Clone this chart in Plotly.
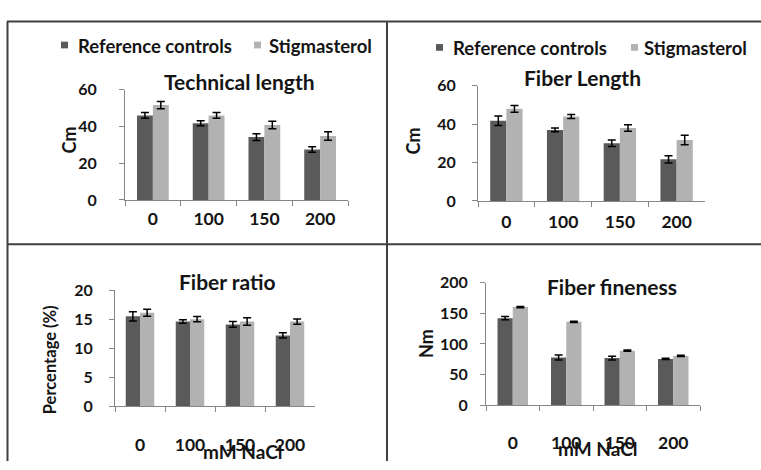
import plotly.graph_objects as go

W, H = 761, 470

categories = ["0", "100", "150", "200"]
series_names = ["Reference controls", "Stigmasterol"]

tech_ref = [46.0, 41.7, 34.2, 27.4]
tech_ref_err = [1.6, 1.4, 1.8, 1.5]
tech_stig = [51.6, 46.0, 40.8, 34.8]
tech_stig_err = [2.0, 1.6, 2.0, 2.3]

fib_ref = [41.8, 37.0, 30.1, 21.7]
fib_ref_err = [2.5, 1.0, 1.7, 1.9]
fib_stig = [48.0, 44.0, 38.0, 31.8]
fib_stig_err = [1.8, 1.0, 1.7, 2.5]

ratio_ref = [15.5, 14.6, 14.1, 12.2]
ratio_ref_err = [0.8, 0.3, 0.5, 0.45]
ratio_stig = [16.1, 15.0, 14.6, 14.6]
ratio_stig_err = [0.6, 0.45, 0.65, 0.45]

fine_ref = [142.0, 78.0, 77.0, 75.5]
fine_ref_err = [2.5, 4.0, 3.0, 1.0]
fine_stig = [160.0, 136.0, 89.0, 80.5]
fine_stig_err = [1.0, 1.0, 1.0, 1.0]

DARK = "#5a5a5a"
LIGHT = "#b2b2b2"
TXT = "#141414"
FONT = "Lato"


def px(x):
    return x / W


def py(y):
    return 1 - y / H


panels = [
    ("x", "y", tech_ref, tech_ref_err, tech_stig, tech_stig_err),
    ("x2", "y2", fib_ref, fib_ref_err, fib_stig, fib_stig_err),
    ("x3", "y3", ratio_ref, ratio_ref_err, ratio_stig, ratio_stig_err),
    ("x4", "y4", fine_ref, fine_ref_err, fine_stig, fine_stig_err),
]

fig = go.Figure()
for xa, ya, r, re, s, se in panels:
    for name, vals, errs, col in [(series_names[0], r, re, DARK), (series_names[1], s, se, LIGHT)]:
        fig.add_trace(go.Bar(
            x=categories, y=vals, name=name, xaxis=xa, yaxis=ya,
            marker=dict(color=col, line=dict(width=0)),
            error_y=dict(type="data", array=errs, visible=True, color="#000000",
                         thickness=1.5, width=4),
            showlegend=False,
        ))

# plot-area pixel boxes: (x0, x1, ytop, ybottom)
boxes = {
    "1": (125, 348, 83, 198),
    "2": (478, 705, 79, 199),
    "3": (115, 315, 292, 413),
    "4": (486, 700, 284, 412),
}
yranges = {"1": [0, 60], "2": [0, 60], "3": [0, 20], "4": [0, 200]}
ydticks = {"1": 20, "2": 20, "3": 5, "4": 50}
ystand = {"1": 19, "2": 13, "3": 13, "4": 9}
xstand = {"1": 3, "2": 5, "3": 23, "4": 22}

layout = dict(
    width=W, height=H,
    margin=dict(l=0, r=0, t=0, b=0),
    paper_bgcolor="white", plot_bgcolor="white",
    barmode="group", bargap=0.43, bargroupgap=0,
    font=dict(family=FONT, color=TXT, size=15),
    showlegend=False,
)

for k, (x0, x1, yt, yb) in boxes.items():
    suffix = "" if k == "1" else k
    layout["xaxis" + suffix] = dict(
        domain=[px(x0), px(x1)], anchor="y" + suffix,
        type="category", showline=True, linecolor="#868686", linewidth=1,
        ticks="outside", tickson="boundaries", ticklen=5, tickcolor="#868686",
        showgrid=False, zeroline=False,
        tickfont=dict(family=FONT, size=17.5, color=TXT, weight="bold"),
        ticklabelstandoff=xstand[k], fixedrange=True,
    )
    layout["yaxis" + suffix] = dict(
        domain=[py(yb), py(yt)], anchor="x" + suffix,
        range=yranges[k], dtick=ydticks[k], tick0=0,
        showline=True, linecolor="#868686", linewidth=1,
        ticks="outside", ticklen=5, tickcolor="#868686",
        showgrid=False, zeroline=False,
        tickfont=dict(family=FONT, size=16, color=TXT, weight="bold"),
        ticklabelstandoff=ystand[k], fixedrange=True,
    )

fig.update_layout(**layout)

# legends (top panels): swatch squares + labels
legend_items = [
    # (swatch x0, swatch center y, text x, name, colour)
    (61, 36.5, 76, series_names[0], DARK),
    (254, 36.5, 267, series_names[1], LIGHT),
    (436, 39, 451, series_names[0], DARK),
    (631, 39, 642, series_names[1], LIGHT),
]
for sx, sy, tx, name, col in legend_items:
    fig.add_shape(type="rect", xref="paper", yref="paper",
                  x0=px(sx), x1=px(sx + 7), y0=py(sy + 3.5), y1=py(sy - 3.5),
                  fillcolor=col, line=dict(width=0))
    fig.add_annotation(text=name, x=px(tx), y=py(sy + 0.5), xref="paper", yref="paper",
                       xanchor="left", yanchor="middle", showarrow=False,
                       font=dict(family=FONT, size=18.5, color=TXT, weight="bold"))

# panel titles, axis titles
ann = [
    ("Technical length", 239, 74, 0, 21),
    ("Fiber Length", 582, 70, 0, 21),
    ("Fiber ratio", 228, 283, 0, 21),
    ("Fiber fineness", 612, 288, 0, 21),
    ("Cm", 69, 136, -90, 18),
    ("Cm", 413, 137, -90, 18),
    ("Percentage (%)", 50, 365, -90, 16.5),
    ("Nm", 426, 348, -90, 18),
    ("mM NaCl", 242, 460, 0, 19),
    ("mM NaCl", 597, 457, 0, 19),
]
for text, x, y, ang, size in ann:
    fig.add_annotation(text=text, x=px(x), y=py(y), xref="paper", yref="paper",
                       xanchor="center", yanchor="middle", showarrow=False, textangle=ang,
                       font=dict(family=FONT, size=size, color=TXT, weight="bold"))

# panel border lines
LC = "#404040"
for x0, y0, x1, y1 in [(7, 12, 761, 12), (7, 244, 761, 244), (7.5, 12, 7.5, 470), (387, 12, 387, 470)]:
    fig.add_shape(type="line", xref="paper", yref="paper",
                  x0=px(x0), y0=py(y0), x1=px(x1), y1=py(y1),
                  line=dict(color=LC, width=2))

# remove the browser's default 8px page margin so the figure sits at the window origin
fig.write_html("out.html",
               config={"displayModeBar": False},
               post_script="document.body.style.margin='0px';document.body.style.overflow='hidden';")
